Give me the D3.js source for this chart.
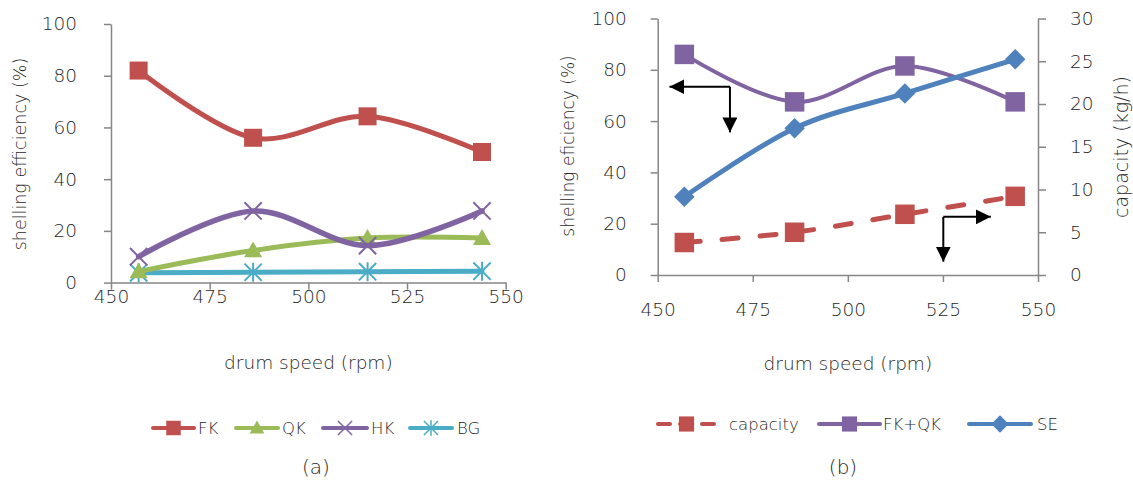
<!DOCTYPE html>
<html>
<head>
<meta charset="utf-8">
<script src="https://cdn.jsdelivr.net/npm/d3@7"></script>
<style>
  body { margin: 0; background: #fff; }
  text { font-family: "DejaVu Sans", sans-serif; font-weight: 200; fill: #1f1f1f; }
</style>
</head>
<body>
<div id="chart"></div>
<script>
// data
var speeds = [457, 486, 515, 544];
var xTicks = [450, 475, 500, 525, 550];

// (a) shelling efficiency per kernel class
var fk = [82, 56, 64.3, 50.5];
var qk = [4.3, 12.4, 17.2, 17.2];
var hk = [10, 27.7, 14.3, 27.7];
var bg = [3.8, 4.0, 4.2, 4.4];
var namesA = ["FK", "QK", "HK", "BG"];

// (b) combined efficiency, SE and capacity
var fkqk = [86, 67.5, 81.5, 67.5];
var se = [30.5, 57.2, 70.8, 84.1];
var capacity = [3.8, 5.0, 7.1, 9.2];
var namesB = ["capacity", "FK+QK", "SE"];

var yTicks = [0, 20, 40, 60, 80, 100];
var y2Ticks = [0, 5, 10, 15, 20, 25, 30];

var red = "#C0504D", green = "#9BBB59", purple = "#8064A2", cyan = "#4BACC6", blue = "#4F81BD";
var axisCol = "#868686";

var svg = d3.select("#chart").append("svg")
    .attr("width", 1133)
    .attr("height", 484);

// custom marker shapes
var xMark = { draw: function(c, s) { var r = Math.sqrt(s) / 2;
    c.moveTo(-r, -r); c.lineTo(r, r); c.moveTo(-r, r); c.lineTo(r, -r); } };
var starMark = { draw: function(c, s) { var r = Math.sqrt(s) / 2;
    c.moveTo(-r, -r); c.lineTo(r, r); c.moveTo(-r, r); c.lineTo(r, -r);
    c.moveTo(0, -r * 1.1); c.lineTo(0, r * 1.1); } };
var diamondMark = { draw: function(c, s) { var r = Math.sqrt(s) / 2;
    c.moveTo(0, -r); c.lineTo(r, 0); c.lineTo(0, r); c.lineTo(-r, 0); c.closePath(); } };
var triMark = { draw: function(c, s) { var r = Math.sqrt(s) / 2;
    c.moveTo(0, -r); c.lineTo(r, r * 0.75); c.lineTo(-r, r * 0.75); c.closePath(); } };
var squareMark = { draw: function(c, s) { var r = Math.sqrt(s) / 2;
    c.rect(-r, -r, 2 * r, 2 * r); } };

function styleAxis(g) {
    g.selectAll("path").attr("stroke", axisCol).attr("stroke-width", 1.5);
    g.selectAll("line").attr("stroke", axisCol).attr("stroke-width", 1.5);
    g.selectAll("text").style("font-size", "18.5px").attr("fill", "#1f1f1f");
}

function drawSeries(g, x, y, vals, s) {
    var line = d3.line()
        .x(function(d, i) { return x(speeds[i]); })
        .y(function(d) { return y(d); })
        .curve(d3.curveCardinal.tension(0));
    g.append("path")
        .datum(vals)
        .attr("d", line)
        .attr("fill", "none")
        .attr("stroke", s.color)
        .attr("stroke-width", s.width)
        .attr("stroke-linecap", "round")
        .attr("stroke-dasharray", s.dash || null);
    g.selectAll(null)
        .data(vals)
        .enter()
        .append("path")
        .attr("transform", function(d, i) { return "translate(" + x(speeds[i]) + "," + y(d) + ")"; })
        .attr("d", d3.symbol().type(s.shape).size(s.size))
        .attr("fill", s.filled ? s.color : "none")
        .attr("stroke", s.color)
        .attr("stroke-width", s.filled ? 0 : 2);
}

function drawLegend(g, items, y) {
    items.forEach(function(it) {
        g.append("line")
            .attr("x1", it.x0).attr("x2", it.x1)
            .attr("y1", y).attr("y2", y)
            .attr("stroke", it.s.color)
            .attr("stroke-width", 4)
            .attr("stroke-linecap", "round")
            .attr("stroke-dasharray", it.s.dash ? "12,10" : null);
        g.append("path")
            .attr("transform", "translate(" + ((it.x0 + it.x1) / 2) + "," + y + ")")
            .attr("d", d3.symbol().type(it.s.shape).size(it.s.legSize))
            .attr("fill", it.s.filled ? it.s.color : "none")
            .attr("stroke", it.s.color)
            .attr("stroke-width", it.s.filled ? 0 : 1.5);
        g.append("text")
            .attr("x", it.tx).attr("y", y)
            .attr("dy", "0.35em")
            .style("font-size", "16.5px")
            .text(it.label);
    });
}

// ---------------------------------------------------------------- (a)
var xa = d3.scaleLinear().domain([450, 550]).range([111, 505.7]);
var ya = d3.scaleLinear().domain([0, 100]).range([282.6, 24]);

var ga = svg.append("g");
ga.append("g")
    .attr("transform", "translate(0," + ya(0) + ")")
    .call(d3.axisBottom(xa).tickValues(xTicks).tickSize(7).tickSizeOuter(0).tickPadding(0))
    .call(styleAxis);
ga.append("g")
    .attr("transform", "translate(" + xa(450) + ",0)")
    .call(d3.axisLeft(ya).tickValues(yTicks).tickSize(7).tickSizeOuter(0).tickPadding(27))
    .call(styleAxis);

ga.append("text")
    .attr("x", (xa(450) + xa(550)) / 2).attr("y", 363)
    .attr("text-anchor", "middle").attr("dy", "0.35em")
    .style("font-size", "18.5px")
    .text("drum speed (rpm)");
ga.append("text")
    .attr("transform", "translate(20,154) rotate(-90)")
    .attr("text-anchor", "middle").attr("dy", "0.35em")
    .style("font-size", "17.5px")
    .text("shelling efficiency (%)");

var sFK = { color: red, width: 5, shape: squareMark, size: 324, filled: true, legSize: 210 };
var sQK = { color: green, width: 5, shape: triMark, size: 330, filled: true, legSize: 220 };
var sHK = { color: purple, width: 5.5, shape: xMark, size: 300, filled: false, legSize: 200 };
var sBG = { color: cyan, width: 5, shape: starMark, size: 300, filled: false, legSize: 200 };

drawSeries(ga, xa, ya, bg, sBG);
drawSeries(ga, xa, ya, qk, sQK);
drawSeries(ga, xa, ya, hk, sHK);
drawSeries(ga, xa, ya, fk, sFK);

drawLegend(ga, [
    { s: sFK, label: namesA[0], x0: 153, x1: 194, tx: 198 },
    { s: sQK, label: namesA[1], x0: 236, x1: 278, tx: 282 },
    { s: sHK, label: namesA[2], x0: 323, x1: 367, tx: 371 },
    { s: sBG, label: namesA[3], x0: 410, x1: 452, tx: 457 }
], 428);

ga.append("text")
    .attr("x", 316).attr("y", 467)
    .attr("text-anchor", "middle").attr("dy", "0.35em")
    .style("font-size", "20px")
    .text("(a)");

// ---------------------------------------------------------------- (b)
var xb = d3.scaleLinear().domain([450, 550]).range([657.7, 1038]);
var yb = d3.scaleLinear().domain([0, 100]).range([275, 18.5]);
var yb2 = d3.scaleLinear().domain([0, 30]).range([275, 18.5]);

var gb = svg.append("g");
gb.append("g")
    .attr("transform", "translate(0," + yb(0) + ")")
    .call(d3.axisBottom(xb).tickValues(xTicks).tickSize(7).tickSizeOuter(0).tickPadding(21))
    .call(styleAxis);
gb.append("g")
    .attr("transform", "translate(" + xb(450) + ",0)")
    .call(d3.axisLeft(yb).tickValues(yTicks).tickSize(7).tickSizeOuter(0).tickPadding(24))
    .call(styleAxis);
gb.append("g")
    .attr("transform", "translate(" + xb(550) + ",0)")
    .call(d3.axisRight(yb2).tickValues(y2Ticks).tickSize(8).tickSizeOuter(0).tickPadding(24))
    .call(styleAxis);

gb.append("text")
    .attr("x", (xb(450) + xb(550)) / 2).attr("y", 364)
    .attr("text-anchor", "middle").attr("dy", "0.35em")
    .style("font-size", "18.5px")
    .text("drum speed (rpm)");
gb.append("text")
    .attr("transform", "translate(568,146) rotate(-90)")
    .attr("text-anchor", "middle").attr("dy", "0.35em")
    .style("font-size", "17px")
    .text("shelling eficiency (%)");
gb.append("text")
    .attr("transform", "translate(1121,147) rotate(-90)")
    .attr("text-anchor", "middle").attr("dy", "0.35em")
    .style("font-size", "19px")
    .text("capacity (kg/h)");

var sCap = { color: red, width: 5, shape: squareMark, size: 380, filled: true, legSize: 230, dash: "16,22" };
var sFQ = { color: purple, width: 4, shape: squareMark, size: 380, filled: true, legSize: 230 };
var sSE = { color: blue, width: 5, shape: diamondMark, size: 420, filled: true, legSize: 300 };

drawSeries(gb, xb, yb2, capacity, sCap);
drawSeries(gb, xb, yb, fkqk, sFQ);
drawSeries(gb, xb, yb, se, sSE);

// arrows pointing each curve to its axis
svg.append("defs").append("marker")
    .attr("id", "head")
    .attr("viewBox", "0 0 10 10")
    .attr("refX", 10).attr("refY", 5)
    .attr("markerWidth", 15).attr("markerHeight", 15)
    .attr("markerUnits", "userSpaceOnUse")
    .attr("orient", "auto")
  .append("path")
    .attr("d", "M0,0L10,5L0,10Z")
    .attr("fill", "#000");

function arrow(cx, cy, hx, vy) {
    gb.append("line").attr("x1", cx).attr("y1", cy).attr("x2", hx).attr("y2", cy)
        .attr("stroke", "#000").attr("stroke-width", 2).attr("marker-end", "url(#head)");
    gb.append("line").attr("x1", cx).attr("y1", cy).attr("x2", cx).attr("y2", vy)
        .attr("stroke", "#000").attr("stroke-width", 2).attr("marker-end", "url(#head)");
}
arrow(xb(469), yb(73.4), xb(453.1), yb(55.6));
arrow(xb(525.1), yb2(6.8), xb(537.6), yb2(1.56));

drawLegend(gb, [
    { s: sCap, label: namesB[0], x0: 658, x1: 715, tx: 729 },
    { s: sFQ, label: namesB[1], x0: 819, x1: 880, tx: 883 },
    { s: sSE, label: namesB[2], x0: 969, x1: 1031, tx: 1037 }
], 424);

gb.append("text")
    .attr("x", 843).attr("y", 467)
    .attr("text-anchor", "middle").attr("dy", "0.35em")
    .style("font-size", "20px")
    .text("(b)");
</script>
</body>
</html>
